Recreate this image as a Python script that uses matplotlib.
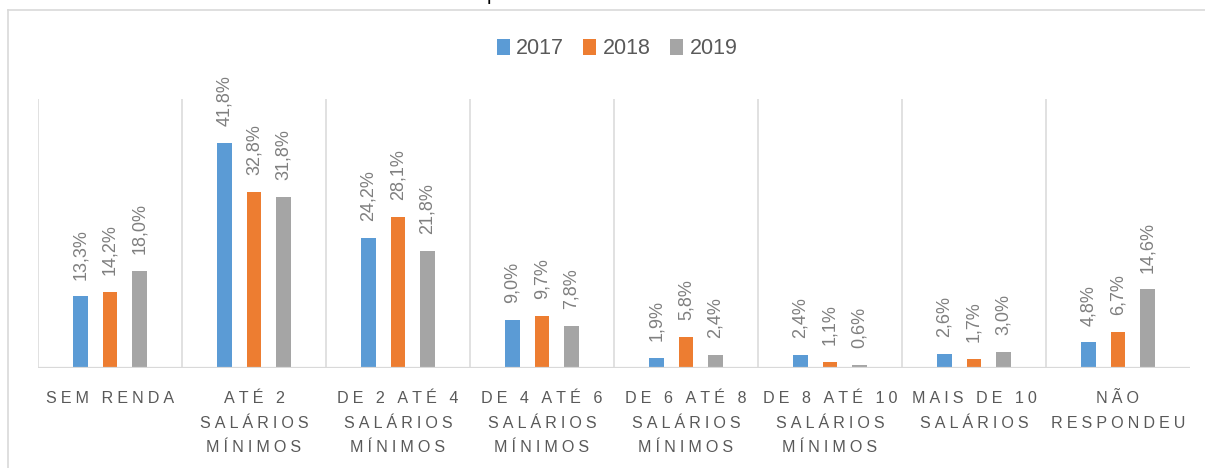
import matplotlib
matplotlib.use("Agg")
import matplotlib.pyplot as plt
from matplotlib.lines import Line2D
from matplotlib.patches import Patch
import numpy as np

categories = ["SEM RENDA", "ATÉ 2\nSALÁRIOS\nMÍNIMOS", "DE 2 ATÉ 4\nSALÁRIOS\nMÍNIMOS",
              "DE 4 ATÉ 6\nSALÁRIOS\nMÍNIMOS", "DE 6 ATÉ 8\nSALÁRIOS\nMÍNIMOS",
              "DE 8 ATÉ 10\nSALÁRIOS\nMÍNIMOS", "MAIS DE 10\nSALÁRIOS", "NÃO\nRESPONDEU"]
series_names = ["2017", "2018", "2019"]
v2017 = [13.3, 41.8, 24.2, 9.0, 1.9, 2.4, 2.6, 4.8]
v2018 = [14.2, 32.8, 28.1, 9.7, 5.8, 1.1, 1.7, 6.7]
v2019 = [18.0, 31.8, 21.8, 7.8, 2.4, 0.6, 3.0, 14.6]

colors = ["#5B9BD5", "#ED7D31", "#A5A5A5"]
FONT = ["Liberation Sans", "DejaVu Sans"]
plt.rcParams["font.family"] = FONT

W, H = 1205, 468
fig = plt.figure(figsize=(W / 100, H / 100), dpi=100)
fig.patch.set_facecolor("white")

# axes placement in pixels
ax_l, ax_r, ax_t, ax_b = 38, 1190, 99, 368
ax = fig.add_axes([ax_l / W, (H - ax_b) / H, (ax_r - ax_l) / W, (ax_b - ax_t) / H])
ax.set_xlim(-0.5, 7.5)
ax.set_ylim(0, 50)
for s in ax.spines.values():
    s.set_visible(False)
ax.set_xticks([])
ax.set_yticks([])

x = np.arange(len(categories))
bw = 0.104
step = 0.205
data = [v2017, v2018, v2019]
for k, (vals, col) in enumerate(zip(data, colors)):
    xs = x + (k - 1) * step
    ax.bar(xs, vals, width=bw, color=col, zorder=3)
    for xi, v in zip(xs, vals):
        ax.annotate(f"{v:.1f}%".replace(".", ","), xy=(xi, v), xytext=(0, 12),
                    textcoords="offset points", rotation=90, ha="center", va="bottom",
                    fontsize=13, color="#7F7F7F")

grid_c = "#D9D9D9"
ax.vlines(np.arange(len(categories)) - 0.5, 0, 50, color=grid_c, lw=1.1, zorder=1)
ax.axhline(0, color=grid_c, lw=1.6, zorder=4)

# category labels with letter spacing, fixed line pitch (px)
SP = "\u2005"
PX2PT = 72 / 100
for i, lab in enumerate(categories):
    for j, line in enumerate(lab.split("\n")):
        ax.annotate(SP.join(list(line)), xy=(i, 0), xycoords=("data", "axes fraction"),
                    xytext=(0, -(35 + 24.5 * j) * PX2PT), textcoords="offset points",
                    ha="center", va="baseline", fontsize=11.6, color="#595959",
                    family=FONT)

# legend
handles = [Patch(facecolor=c, edgecolor="none") for c in colors]
leg = fig.legend(handles, series_names, loc="center", bbox_to_anchor=(617 / W, (H - 49) / H),
                 ncol=3, frameon=False, fontsize=15.5, handlelength=0.6, handleheight=0.7,
                 handletextpad=0.3, columnspacing=0.9, borderpad=0)
for t in leg.get_texts():
    t.set_color("#595959")

# chart frame
fig.add_artist(Line2D([8 / W, 8 / W], [0, (H - 10) / H], color=grid_c, lw=1.2,
                      transform=fig.transFigure))
fig.add_artist(Line2D([8 / W, 1], [(H - 10) / H, (H - 10) / H], color=grid_c, lw=1.2,
                      transform=fig.transFigure))

# clipped title fragment at the very top (the reference's title is cut off)
fig.text(492 / W, 1.0, "p", ha="center", va="baseline", fontsize=14, color="black")

fig.savefig("out.png", dpi=100, facecolor="white")
